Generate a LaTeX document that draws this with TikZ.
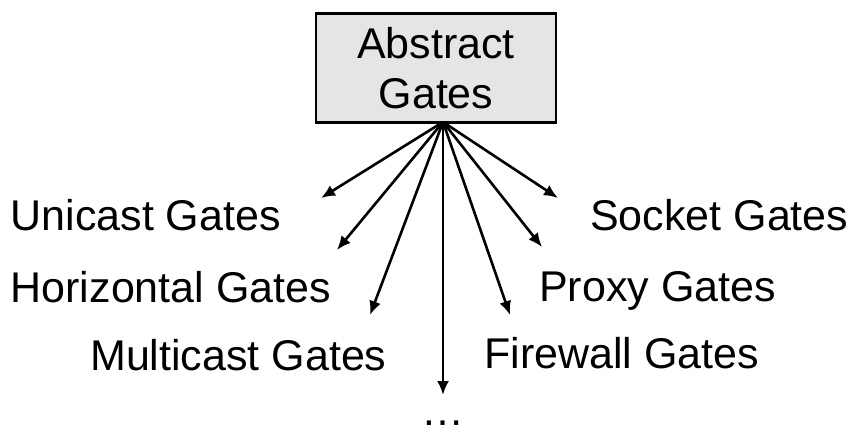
\documentclass[tikz,border=0pt]{standalone}
\usepackage{fontspec}
\setmainfont{Liberation Sans}
\usetikzlibrary{arrows.meta}
\begin{document}
\begin{tikzpicture}[x=1pt,y=-1pt,
  gatebox/.style={draw=black,line width=2.6pt,fill=gray!20,minimum width=240pt,minimum height=109pt,inner sep=0pt,align=center,font=\fontsize{43}{50}\selectfont},
  lbl/.style={anchor=base west,inner sep=0pt,font=\fontsize{43}{50}\selectfont},
  arr/.style={line width=2.6pt,-{Latex[length=14pt,width=12pt]}}]
\useasboundingbox (0,0) rectangle (854,426);
\node[gatebox] (box) at (436,68) {Abstract\\Gates};
\coordinate (apex) at (443,122);
\node[lbl] (uni) at (10.5,230) {Unicast Gates};
\node[lbl] (hor) at (10.5,302) {Horizontal Gates};
\node[lbl] (mul) at (90,370) {Multicast Gates};
\node[lbl] (soc) at (590,230) {Socket Gates};
\node[lbl] (pro) at (539,301) {Proxy Gates};
\node[lbl] (fir) at (484,368) {Firewall Gates};
\node[anchor=base,inner sep=0pt,font=\fontsize{43}{50}\selectfont] (dots) at (443,425) {…};
\coordinate (tuni) at (321,198);
\coordinate (thor) at (337,250);
\coordinate (tmul) at (370,315);
\coordinate (tdot) at (443,395);
\coordinate (tfir) at (510,315);
\coordinate (tpro) at (542,247);
\coordinate (tsoc) at (558,198);
\foreach \t in {tuni,thor,tmul,tdot,tfir,tpro,tsoc}
  \draw[arr] (apex) -- (\t);
\end{tikzpicture}
\end{document}
